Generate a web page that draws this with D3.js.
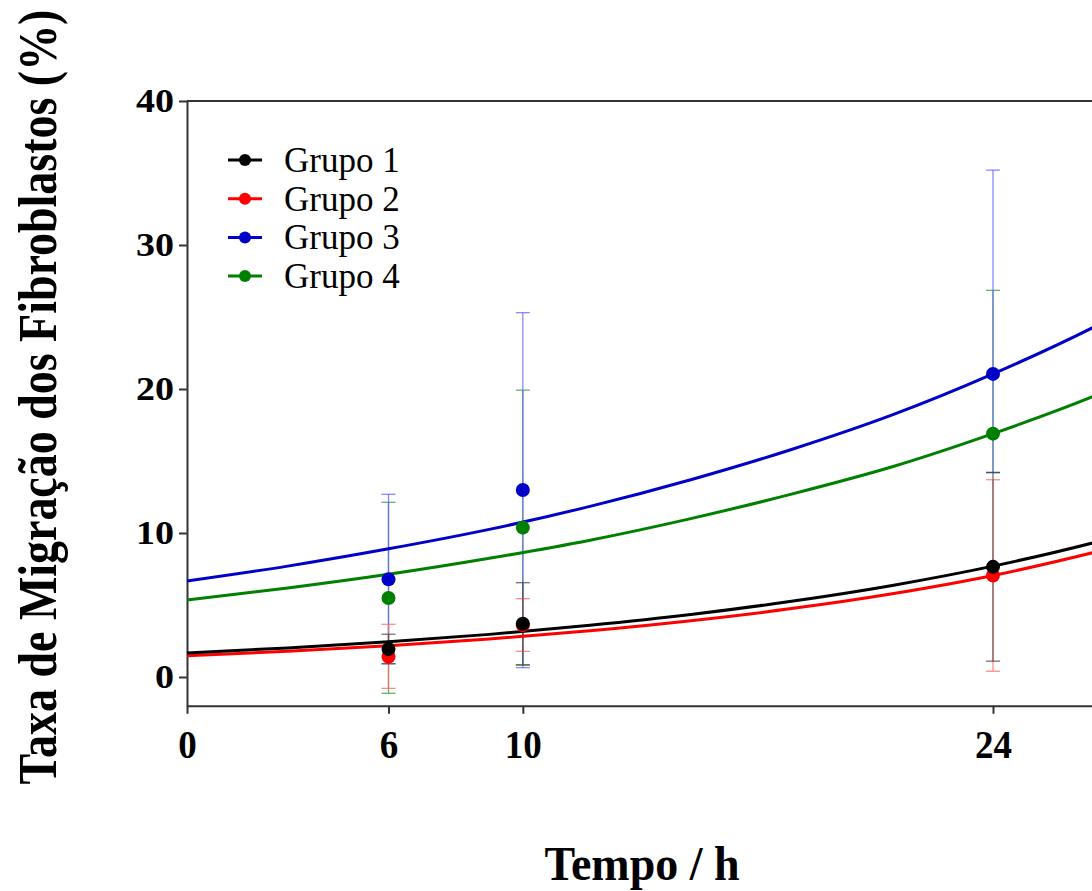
<!DOCTYPE html>
<html><head><meta charset="utf-8">
<script src="https://cdn.jsdelivr.net/npm/d3@7"></script>
<style>
html,body{margin:0;padding:0;background:#fff;}
svg{display:block;font-family:"Liberation Serif","Times New Roman",serif;}
</style></head>
<body>
<svg id="chart" width="1092" height="891"></svg>
<script>
// ---- data ----
const groups = ["Grupo 1", "Grupo 2", "Grupo 3", "Grupo 4"];
const colors = ["#000000", "#ff0000", "#0000c8", "#008000"];
const barColors = ["#444444", "#ff6666", "#6060ff", "#339933"];
const times = [6, 10, 24];
const mean1 = [1.94, 3.70, 7.65];
const mean2 = [1.41, 3.60, 7.05];
const mean3 = [6.78, 12.99, 21.05];
const mean4 = [5.49, 10.37, 16.90];
const upper1 = [2.97, 6.55, 14.20];
const upper2 = [3.66, 5.44, 13.70];
const upper3 = [12.69, 25.30, 35.20];
const upper4 = [12.13, 19.92, 26.85];
const lower1 = [0.92, 0.85, 1.10];
const lower2 = [-0.79, 1.78, 0.40];
const lower3 = [0.92, 0.65, 14.20];
const lower4 = [-1.13, 0.82, 14.20];
// fitted curves
const curveT = [0, 3, 6, 9, 12, 15, 18, 21, 24, 27, 30];
const curve1 = [1.67, 2.02, 2.45, 2.96, 3.59, 4.34, 5.26, 6.36, 7.70, 9.33, 11.3];
const curve2 = [1.47, 1.79, 2.17, 2.64, 3.21, 3.91, 4.75, 5.78, 7.05, 8.65, 10.5];
const curve3 = [6.67, 7.70, 8.90, 10.25, 11.85, 13.70, 15.80, 18.20, 21.05, 24.30, 28.1];
const curve4 = [5.35, 6.18, 7.13, 8.24, 9.50, 11.00, 12.70, 14.60, 16.90, 19.50, 22.6];
const xTicks = [0, 6, 10, 24];
const yTicks = [0, 10, 20, 30, 40];
const xLabel = "Tempo / h";
const yLabel = "Taxa de Migração dos Fibroblastos (%)";

const means = [mean1, mean2, mean3, mean4];
const uppers = [upper1, upper2, upper3, upper4];
const lowers = [lower1, lower2, lower3, lower4];
const curves = [curve1, curve2, curve3, curve4];

const svg = d3.select("#chart");
const x = d3.scaleLinear().domain([0, 30]).range([187, 187 + 30 * 806 / 24]);
const y = d3.scaleLinear().domain([-2, 40]).range([705.8, 101]);

// frame top line
svg.append("line").attr("x1", x(0)).attr("x2", 1200).attr("y1", y(40)).attr("y2", y(40))
  .attr("stroke", "#333").attr("stroke-width", 2);

// axes
const yAxis = svg.append("g").attr("transform", `translate(${x(0)},0)`)
  .call(d3.axisLeft(y).tickValues(yTicks).tickSize(8).tickSizeOuter(0).tickPadding(5));
const xAxis = svg.append("g").attr("transform", `translate(0,${y(-2)})`)
  .call(d3.axisBottom(x).tickValues(xTicks).tickSize(8).tickSizeOuter(0).tickPadding(16));
[yAxis, xAxis].forEach(a => {
  a.select(".domain").attr("stroke", "#333").attr("stroke-width", 2);
  a.selectAll(".tick line").attr("stroke", "#333").attr("stroke-width", 2);
  a.selectAll(".tick text").attr("fill", "#000").attr("font-weight", "bold")
    .attr("font-family", "Liberation Serif");
});
yAxis.selectAll(".tick text").attr("font-size", 33)
  .attr("textLength", d => String(d).length * 19).attr("lengthAdjust", "spacingAndGlyphs");
xAxis.selectAll(".tick text").attr("font-size", 40)
  .attr("textLength", d => String(d).length * 18.5).attr("lengthAdjust", "spacingAndGlyphs");

// axis titles, squeezed along their length with a transform
function squeezed(txt, size, targetLen, cx, baseY, rotate) {
  const g = svg.append("g");
  const t = g.append("text").attr("text-anchor", "middle").attr("font-size", size)
    .attr("font-weight", "bold").attr("fill", "#000").text(txt);
  const natural = t.node().getComputedTextLength();
  const s = targetLen / natural;
  g.attr("transform", `translate(${cx},${baseY})` + (rotate ? " rotate(-90)" : "") + ` scale(${s},1)`);
}
squeezed(yLabel, 55, 775, 56, 397, true);
squeezed(xLabel, 48, 195, 642, 880, false);

const order = [3, 2, 1, 0];
const cap = 7;
// error bars
order.forEach(g => {
  const eg = svg.append("g").attr("stroke", barColors[g]).attr("stroke-width", 1.3)
    .attr("stroke-opacity", 0.75);
  times.forEach((t, i) => {
    eg.append("line").attr("x1", x(t)).attr("x2", x(t))
      .attr("y1", y(uppers[g][i])).attr("y2", y(lowers[g][i]));
    [uppers[g][i], lowers[g][i]].forEach(v => {
      eg.append("line").attr("x1", x(t) - cap).attr("x2", x(t) + cap)
        .attr("y1", y(v)).attr("y2", y(v));
    });
  });
});
// curves
const line = d3.line().x(d => x(d[0])).y(d => y(d[1])).curve(d3.curveMonotoneX);
order.forEach(g => {
  svg.append("path").datum(curveT.map((t, i) => [t, curves[g][i]]))
    .attr("d", line).attr("fill", "none").attr("stroke", colors[g]).attr("stroke-width", 3);
});
// points
order.forEach(g => {
  svg.append("g").selectAll("circle").data(times).join("circle")
    .attr("cx", t => x(t)).attr("cy", (t, i) => y(means[g][i])).attr("r", 7)
    .attr("fill", colors[g]);
});

// legend
const lg = svg.append("g");
groups.forEach((name, i) => {
  const cy = 160 + i * 38.7;
  lg.append("line").attr("x1", 228).attr("x2", 262).attr("y1", cy).attr("y2", cy)
    .attr("stroke", colors[i]).attr("stroke-width", 3);
  lg.append("circle").attr("cx", 245).attr("cy", cy).attr("r", 6).attr("fill", colors[i]);
  lg.append("text").attr("x", 284).attr("y", cy + 12).attr("font-size", 35)
    .attr("fill", "#000").text(name);
});
</script>
</body></html>
